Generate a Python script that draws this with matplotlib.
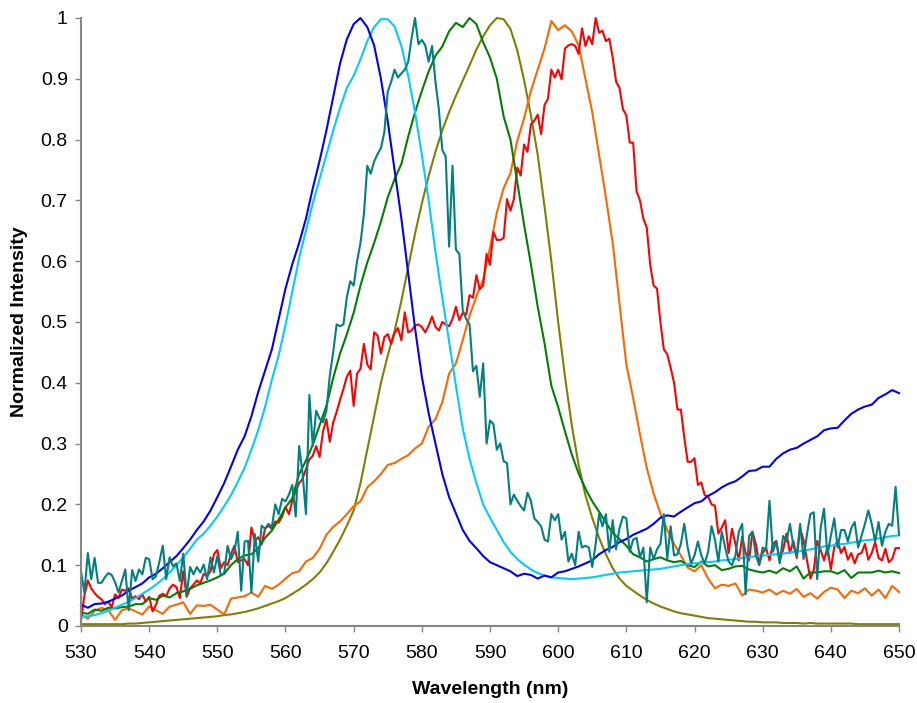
import numpy as np
import matplotlib
matplotlib.use("Agg")
import matplotlib.pyplot as plt
from matplotlib.ticker import MultipleLocator, FuncFormatter

plt.rcParams['font.family'] = ['Liberation Sans', 'DejaVu Sans']

# Wavelength grids (nm)
wl_1nm = np.arange(530, 651)
wl_half = np.arange(530, 650.5, 0.5)

# Normalized emission spectra, 1 nm steps (530-650 nm)
blue = [
    0.035, 0.030, 0.036, 0.037, 0.040, 0.045, 0.050, 0.058, 0.064, 0.070,
    0.080, 0.086, 0.095, 0.105, 0.115, 0.128, 0.142, 0.158, 0.172, 0.190,
    0.212, 0.235, 0.262, 0.290, 0.312, 0.345, 0.385, 0.420, 0.455, 0.505,
    0.555, 0.595, 0.630, 0.670, 0.720, 0.765, 0.815, 0.870, 0.925, 0.965,
    0.990, 1.000, 0.985, 0.955, 0.900, 0.830, 0.750, 0.670, 0.580, 0.490,
    0.410, 0.350, 0.300, 0.250, 0.212, 0.185, 0.158, 0.140, 0.128, 0.115,
    0.105, 0.100, 0.095, 0.090, 0.082, 0.086, 0.084, 0.078, 0.083, 0.080,
    0.088, 0.090, 0.094, 0.098, 0.103, 0.108, 0.118, 0.125, 0.130, 0.138,
    0.143, 0.150, 0.155, 0.160, 0.168, 0.178, 0.182, 0.180, 0.188, 0.195,
    0.202, 0.205, 0.214, 0.220, 0.228, 0.234, 0.238, 0.246, 0.255, 0.256,
    0.262, 0.262, 0.275, 0.284, 0.290, 0.293, 0.300, 0.306, 0.312, 0.322,
    0.325, 0.326, 0.338, 0.349, 0.356, 0.361, 0.364, 0.375, 0.381, 0.388,
    0.383,
]

cyan = [
    0.015, 0.016, 0.018, 0.021, 0.025, 0.030, 0.035, 0.040, 0.046, 0.053,
    0.060, 0.068, 0.077, 0.088, 0.100, 0.113, 0.127, 0.142, 0.152, 0.165,
    0.180, 0.197, 0.215, 0.237, 0.260, 0.290, 0.322, 0.360, 0.405, 0.445,
    0.495, 0.550, 0.605, 0.650, 0.695, 0.735, 0.775, 0.815, 0.852, 0.885,
    0.905, 0.932, 0.962, 0.985, 0.998, 0.998, 0.986, 0.954, 0.905, 0.845,
    0.775, 0.700, 0.615, 0.540, 0.468, 0.395, 0.325, 0.275, 0.235, 0.200,
    0.178, 0.158, 0.138, 0.122, 0.110, 0.101, 0.093, 0.087, 0.083, 0.080,
    0.079, 0.078, 0.077, 0.078, 0.079, 0.080, 0.082, 0.084, 0.086, 0.088,
    0.089, 0.090, 0.091, 0.092, 0.093, 0.094, 0.096, 0.098, 0.100, 0.102,
    0.103, 0.104, 0.105, 0.106, 0.108, 0.109, 0.110, 0.112, 0.113, 0.115,
    0.116, 0.117, 0.118, 0.119, 0.121, 0.122, 0.124, 0.126, 0.128, 0.131,
    0.132, 0.134, 0.135, 0.137, 0.139, 0.141, 0.142, 0.144, 0.146, 0.148,
    0.149,
]

green = [
    0.022, 0.020, 0.027, 0.025, 0.030, 0.029, 0.031, 0.032, 0.036, 0.036,
    0.046, 0.043, 0.050, 0.047, 0.054, 0.057, 0.061, 0.067, 0.071, 0.075,
    0.080, 0.086, 0.100, 0.110, 0.116, 0.118, 0.128, 0.145, 0.157, 0.175,
    0.195, 0.210, 0.250, 0.272, 0.298, 0.330, 0.362, 0.408, 0.448, 0.480,
    0.515, 0.560, 0.598, 0.630, 0.665, 0.705, 0.735, 0.760, 0.805, 0.845,
    0.880, 0.912, 0.938, 0.953, 0.978, 0.992, 0.985, 1.000, 0.990, 0.960,
    0.935, 0.900, 0.838, 0.800, 0.730, 0.660, 0.595, 0.525, 0.465, 0.395,
    0.360, 0.320, 0.282, 0.251, 0.226, 0.205, 0.188, 0.170, 0.153, 0.143,
    0.132, 0.118, 0.113, 0.106, 0.110, 0.113, 0.108, 0.105, 0.107, 0.100,
    0.097, 0.106, 0.098, 0.100, 0.092, 0.094, 0.098, 0.099, 0.093, 0.090,
    0.088, 0.091, 0.087, 0.095, 0.090, 0.098, 0.078, 0.088, 0.088, 0.090,
    0.090, 0.086, 0.092, 0.079, 0.088, 0.088, 0.088, 0.091, 0.088, 0.090,
    0.087,
]

olive = [
    0.003, 0.003, 0.003, 0.003, 0.003, 0.003, 0.003, 0.004, 0.004, 0.005,
    0.006, 0.007, 0.008, 0.009, 0.010, 0.011, 0.012, 0.013, 0.014, 0.015,
    0.016, 0.018, 0.019, 0.021, 0.023, 0.026, 0.029, 0.033, 0.037, 0.041,
    0.046, 0.053, 0.060, 0.068, 0.077, 0.088, 0.103, 0.122, 0.142, 0.165,
    0.190, 0.235, 0.290, 0.345, 0.400, 0.445, 0.485, 0.535, 0.590, 0.645,
    0.695, 0.740, 0.780, 0.815, 0.845, 0.872, 0.897, 0.922, 0.948, 0.970,
    0.988, 1.000, 0.998, 0.982, 0.947, 0.898, 0.840, 0.775, 0.690, 0.600,
    0.500, 0.410, 0.330, 0.265, 0.215, 0.178, 0.145, 0.118, 0.095, 0.078,
    0.066, 0.058, 0.050, 0.043, 0.037, 0.032, 0.028, 0.024, 0.021, 0.019,
    0.017, 0.015, 0.013, 0.012, 0.011, 0.010, 0.009, 0.008, 0.007, 0.007,
    0.006, 0.006, 0.006, 0.005, 0.005, 0.005, 0.004, 0.005, 0.004, 0.004,
    0.004, 0.004, 0.004, 0.004, 0.003, 0.003, 0.003, 0.003, 0.003, 0.003,
    0.003,
]

orange = [
    0.019, 0.012, 0.025, 0.030, 0.026, 0.010, 0.026, 0.029, 0.024, 0.019,
    0.032, 0.026, 0.020, 0.032, 0.035, 0.039, 0.020, 0.034, 0.033, 0.035,
    0.027, 0.019, 0.045, 0.047, 0.049, 0.055, 0.048, 0.066, 0.061, 0.068,
    0.078, 0.087, 0.090, 0.106, 0.112, 0.127, 0.150, 0.163, 0.172, 0.184,
    0.197, 0.205, 0.228, 0.238, 0.250, 0.265, 0.268, 0.275, 0.281, 0.292,
    0.300, 0.328, 0.340, 0.368, 0.415, 0.432, 0.470, 0.510, 0.542, 0.570,
    0.622, 0.680, 0.720, 0.745, 0.798, 0.835, 0.880, 0.915, 0.950, 0.995,
    0.980, 0.988, 0.978, 0.955, 0.900, 0.845, 0.775, 0.705, 0.630, 0.530,
    0.430, 0.375, 0.315, 0.260, 0.218, 0.185, 0.158, 0.135, 0.116, 0.096,
    0.090, 0.100, 0.078, 0.062, 0.068, 0.066, 0.070, 0.050, 0.060, 0.058,
    0.055, 0.060, 0.052, 0.058, 0.053, 0.061, 0.048, 0.054, 0.045, 0.056,
    0.063, 0.060, 0.046, 0.058, 0.054, 0.062, 0.050, 0.060, 0.046, 0.066,
    0.056,
]

# Noisier spectra, 0.5 nm steps (530-650 nm)
red = [
    0.008, 0.050, 0.075, 0.062, 0.054, 0.048, 0.044, 0.036, 0.040, 0.031,
    0.052, 0.046, 0.060, 0.058, 0.062, 0.045, 0.049, 0.044, 0.052, 0.040,
    0.048, 0.024, 0.035, 0.050, 0.053, 0.049, 0.062, 0.068, 0.064, 0.046,
    0.090, 0.048, 0.062, 0.068, 0.075, 0.070, 0.086, 0.082, 0.090, 0.118,
    0.125, 0.095, 0.105, 0.100, 0.118, 0.132, 0.105, 0.108, 0.110, 0.100,
    0.162, 0.140, 0.146, 0.134, 0.160, 0.165, 0.160, 0.172, 0.170, 0.180,
    0.196, 0.184, 0.206, 0.222, 0.235, 0.242, 0.258, 0.274, 0.280, 0.296,
    0.278, 0.320, 0.340, 0.303, 0.335, 0.352, 0.372, 0.390, 0.410, 0.420,
    0.362, 0.415, 0.423, 0.464, 0.430, 0.422, 0.483, 0.478, 0.448, 0.475,
    0.480, 0.464, 0.482, 0.490, 0.470, 0.516, 0.483, 0.486, 0.494, 0.496,
    0.492, 0.483, 0.494, 0.509, 0.492, 0.486, 0.500, 0.496, 0.493, 0.505,
    0.525, 0.503, 0.515, 0.512, 0.544, 0.540, 0.577, 0.554, 0.560, 0.612,
    0.594, 0.648, 0.635, 0.635, 0.638, 0.702, 0.683, 0.702, 0.754, 0.741,
    0.792, 0.780, 0.825, 0.831, 0.841, 0.809, 0.857, 0.867, 0.915, 0.902,
    0.915, 0.899, 0.950, 0.955, 0.957, 0.954, 0.941, 0.983, 0.954, 0.970,
    0.957, 1.000, 0.976, 0.979, 0.962, 0.966, 0.935, 0.895, 0.885, 0.850,
    0.840, 0.795, 0.795, 0.715, 0.700, 0.670, 0.655, 0.594, 0.560, 0.555,
    0.500, 0.455, 0.447, 0.425, 0.400, 0.356, 0.356, 0.310, 0.270, 0.270,
    0.276, 0.232, 0.236, 0.215, 0.213, 0.200, 0.198, 0.152, 0.162, 0.174,
    0.120, 0.160, 0.135, 0.108, 0.147, 0.120, 0.108, 0.155, 0.135, 0.103,
    0.120, 0.128, 0.108, 0.135, 0.140, 0.108, 0.125, 0.152, 0.120, 0.140,
    0.112, 0.160, 0.141, 0.108, 0.078, 0.092, 0.140, 0.125, 0.108, 0.130,
    0.093, 0.130, 0.140, 0.120, 0.130, 0.109, 0.120, 0.103, 0.118, 0.120,
    0.135, 0.109, 0.120, 0.138, 0.112, 0.108, 0.127, 0.105, 0.110, 0.128,
    0.128,
]

teal = [
    0.090, 0.055, 0.120, 0.077, 0.112, 0.071, 0.071, 0.080, 0.087, 0.084,
    0.072, 0.055, 0.074, 0.093, 0.026, 0.092, 0.074, 0.093, 0.085, 0.112,
    0.110, 0.077, 0.082, 0.106, 0.132, 0.077, 0.113, 0.098, 0.103, 0.074,
    0.119, 0.050, 0.097, 0.085, 0.097, 0.088, 0.101, 0.077, 0.113, 0.088,
    0.115, 0.084, 0.086, 0.132, 0.110, 0.122, 0.155, 0.058, 0.139, 0.140,
    0.055, 0.151, 0.106, 0.165, 0.160, 0.168, 0.163, 0.200, 0.184, 0.209,
    0.205, 0.216, 0.232, 0.180, 0.296, 0.251, 0.184, 0.380, 0.296, 0.354,
    0.341, 0.335, 0.354, 0.412, 0.451, 0.496, 0.493, 0.496, 0.541, 0.567,
    0.560, 0.600, 0.630, 0.677, 0.757, 0.744, 0.764, 0.776, 0.786, 0.812,
    0.879, 0.895, 0.915, 0.902, 0.909, 0.915, 0.928, 0.967, 1.000, 0.957,
    0.964, 0.955, 0.928, 0.954, 0.895, 0.850, 0.783, 0.772, 0.624, 0.757,
    0.619, 0.612, 0.519, 0.505, 0.496, 0.419, 0.428, 0.377, 0.432, 0.300,
    0.338, 0.332, 0.290, 0.300, 0.271, 0.268, 0.200, 0.216, 0.206, 0.197,
    0.190, 0.219, 0.206, 0.177, 0.171, 0.164, 0.142, 0.139, 0.184, 0.174,
    0.184, 0.142, 0.155, 0.106, 0.119, 0.100, 0.155, 0.129, 0.132, 0.129,
    0.097, 0.135, 0.184, 0.164, 0.184, 0.122, 0.174, 0.126, 0.161, 0.180,
    0.177, 0.122, 0.142, 0.145, 0.113, 0.129, 0.039, 0.129, 0.110, 0.126,
    0.135, 0.184, 0.110, 0.164, 0.116, 0.118, 0.135, 0.168, 0.129, 0.103,
    0.116, 0.139, 0.116, 0.103, 0.122, 0.164, 0.142, 0.106, 0.155, 0.129,
    0.106, 0.100, 0.116, 0.155, 0.168, 0.052, 0.148, 0.155, 0.116, 0.100,
    0.129, 0.126, 0.206, 0.122, 0.139, 0.103, 0.148, 0.139, 0.168, 0.132,
    0.116, 0.168, 0.110, 0.151, 0.184, 0.187, 0.077, 0.161, 0.193, 0.116,
    0.148, 0.177, 0.129, 0.158, 0.158, 0.139, 0.161, 0.171, 0.129, 0.148,
    0.168, 0.190, 0.168, 0.139, 0.171, 0.132, 0.155, 0.168, 0.165, 0.229,
    0.150,
]

W, H = 917, 703
fig = plt.figure(figsize=(W / 100, H / 100), dpi=100)
ax = fig.add_axes([81 / W, 1 - 626 / H, (899 - 81) / W, (626 - 18) / H])

lw = 1.5
ax.plot(wl_1nm, olive, color='#808000', lw=lw, clip_on=False)
ax.plot(wl_1nm, orange, color='#FF6600', lw=lw, clip_on=False)
ax.plot(wl_half, red, color='#FF0000', lw=lw, clip_on=False)
ax.plot(wl_1nm, green, color='#008000', lw=lw, clip_on=False)
ax.plot(wl_1nm, cyan, color='#00CCFF', lw=lw, clip_on=False)
ax.plot(wl_1nm, blue, color='#0000FF', lw=lw, clip_on=False)
ax.plot(wl_half, teal, color='#008080', lw=lw, clip_on=False)

ax.set_xlim(530, 650)
ax.set_ylim(0, 1)
ax.xaxis.set_major_locator(MultipleLocator(10))
ax.yaxis.set_major_locator(MultipleLocator(0.1))
ax.yaxis.set_major_formatter(FuncFormatter(lambda v, p: f"{v:g}"))

for side in ('top', 'right'):
    ax.spines[side].set_visible(False)
for side in ('left', 'bottom'):
    ax.spines[side].set_color('#868686')
    ax.spines[side].set_linewidth(1.5)

ax.tick_params(axis='both', direction='out', length=4, width=1,
               color='#868686', labelsize=14, labelcolor='black')
ax.tick_params(axis='y', pad=5.5)
ax.tick_params(axis='x', pad=10)

fig.text(490 / W, 1 - 690 / H, 'Wavelength (nm)', ha='center', va='center',
         fontsize=14, fontweight='bold')
fig.text(20 / W, 1 - 322 / H, 'Normalized Intensity', ha='center', va='center',
         rotation=90, fontsize=14, fontweight='bold')

fig.savefig('out.png', dpi=100)
